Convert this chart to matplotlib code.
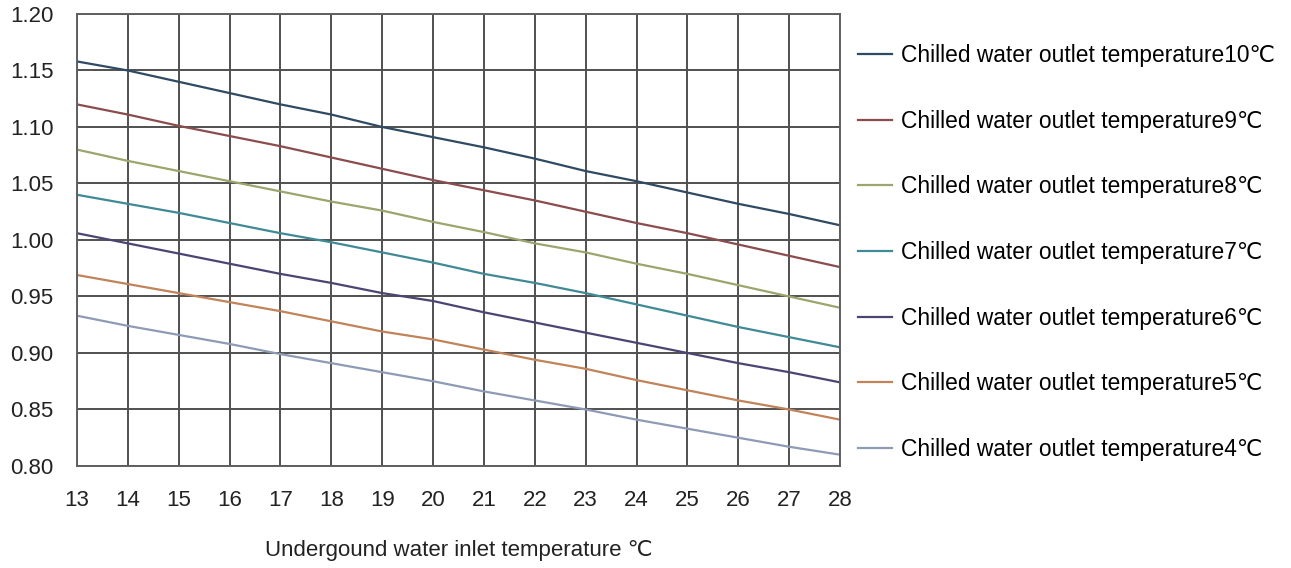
import matplotlib.pyplot as plt

plt.rcParams['font.family'] = ['Liberation Sans', 'DejaVu Sans']

# inlet water temperature (x axis)
inlet_temp = [13, 14, 15, 16, 17, 18, 19, 20, 21, 22, 23, 24, 25, 26, 27, 28]

# correction factor per chilled water outlet temperature
t10 = [1.158, 1.150, 1.140, 1.130, 1.120, 1.111, 1.100, 1.091, 1.082, 1.072, 1.061, 1.052, 1.042, 1.032, 1.023, 1.013]
t9 = [1.120, 1.111, 1.101, 1.092, 1.083, 1.073, 1.063, 1.053, 1.044, 1.035, 1.025, 1.015, 1.006, 0.996, 0.986, 0.976]
t8 = [1.080, 1.070, 1.061, 1.052, 1.043, 1.034, 1.026, 1.016, 1.007, 0.997, 0.989, 0.979, 0.970, 0.960, 0.950, 0.940]
t7 = [1.040, 1.032, 1.024, 1.015, 1.006, 0.998, 0.989, 0.980, 0.970, 0.962, 0.953, 0.943, 0.933, 0.923, 0.914, 0.905]
t6 = [1.006, 0.997, 0.988, 0.979, 0.970, 0.962, 0.953, 0.946, 0.936, 0.927, 0.918, 0.909, 0.900, 0.891, 0.883, 0.874]
t5 = [0.969, 0.961, 0.953, 0.945, 0.937, 0.928, 0.919, 0.912, 0.903, 0.894, 0.886, 0.876, 0.867, 0.858, 0.850, 0.841]
t4 = [0.933, 0.924, 0.916, 0.908, 0.899, 0.891, 0.883, 0.875, 0.866, 0.858, 0.850, 0.841, 0.833, 0.825, 0.817, 0.810]

series = [t10, t9, t8, t7, t6, t5, t4]
labels = ['Chilled water outlet temperature10℃', 'Chilled water outlet temperature9℃',
          'Chilled water outlet temperature8℃', 'Chilled water outlet temperature7℃',
          'Chilled water outlet temperature6℃', 'Chilled water outlet temperature5℃',
          'Chilled water outlet temperature4℃']
colors = ['#2f4a63', '#8a4c4e', '#9ba56c', '#3f8a95', '#4a4572', '#c0835a', '#8e9bb4']

fig = plt.figure(figsize=(12.91, 5.68), dpi=100)
ax = fig.add_axes([0.0596, 0.1796, 0.5911, 0.7958])

for vals, lab, col in zip(series, labels, colors):
    ax.plot(inlet_temp, vals, color=col, lw=1.6, label=lab)

ax.set_xlim(13, 28)
ax.set_ylim(0.80, 1.20)
ax.set_xticks(inlet_temp)
ax.set_yticks([0.80, 0.85, 0.90, 0.95, 1.00, 1.05, 1.10, 1.15, 1.20])
ax.set_yticklabels(['0.80', '0.85', '0.90', '0.95', '1.00', '1.05', '1.10', '1.15', '1.20'])
ax.grid(True, color='#505050', lw=1.4)
ax.set_axisbelow(True)
for s in ax.spines.values():
    s.set_color('#606060')
    s.set_linewidth(1.4)
ax.tick_params(length=0, labelsize=16, colors='#222222')
ax.tick_params(axis='y', pad=17)
ax.tick_params(axis='x', pad=17)
ax.set_xlabel('Undergound water inlet temperature ℃', fontsize=16, labelpad=21, color='#222222')

ax.legend(loc='upper left', bbox_to_anchor=(1.0236, 0.933), frameon=False, fontsize=16.4,
          handlelength=1.5, handletextpad=0.4, labelspacing=1.87, borderaxespad=0,
          borderpad=0)

plt.savefig('out.png')
